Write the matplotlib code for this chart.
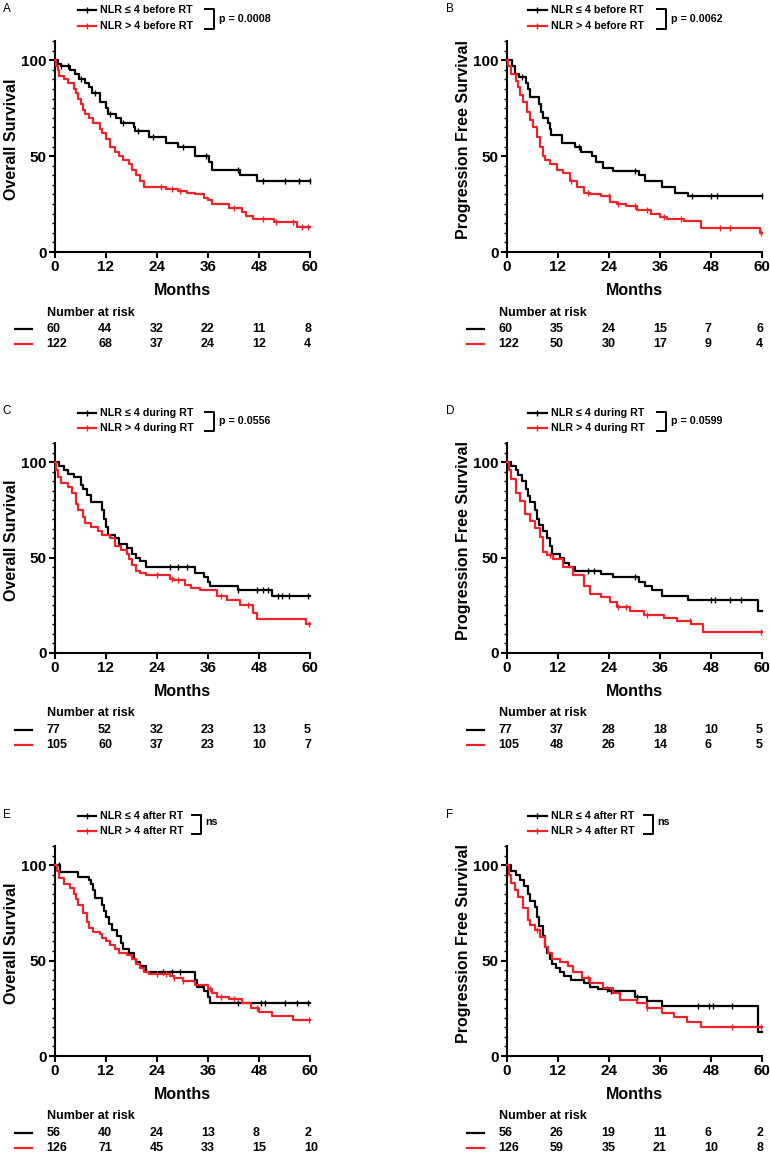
import numpy as np
import matplotlib
matplotlib.use("Agg")
import matplotlib.pyplot as plt
from matplotlib.ticker import MultipleLocator

plt.rcParams['font.family'] = ['Liberation Sans', 'DejaVu Sans']
plt.rcParams['font.weight'] = 'bold'

BLACK = '#000000'
RED = '#ee2229'

months = [0, 12, 24, 36, 48, 60]

# Panel A: overall survival, NLR before RT
a_lo_t = [0, 0.8, 1.5, 3.5, 4.8, 5.7, 7.0, 8.0, 8.8, 10.6, 12.0, 12.5, 14.3, 15.6, 18.5, 18.9,
          22.0, 26.0, 29.0, 33.0, 36.3, 37.0, 43.5, 47.5]
a_lo_s = [100, 98, 97, 95, 93, 90, 88, 86, 83, 78, 75, 72, 70, 67, 65, 63,
          60, 57, 55, 50, 47, 43, 40, 37]
a_lo_c = [1.5, 3.0, 6.0, 9.5, 13.0, 16.0, 19.5, 23.0, 30.0, 35.5, 43.0, 49.0, 54.0, 57.5, 60.0]
a_hi_t = [0, 0.3, 0.7, 1.0, 2.0, 3.0, 4.5, 5.0, 5.5, 6.0, 6.5, 7.0, 8.0, 9.0, 10.5, 11.0, 12.0,
          13.0, 14.0, 15.0, 16.0, 17.5, 18.0, 19.0, 20.0, 21.0, 26.0, 29.0, 31.0, 33.0, 35.0,
          36.0, 37.0, 41.0, 44.0, 45.0, 46.5, 51.5, 57.0]
a_hi_s = [100, 97, 95, 92, 90, 88, 85, 83, 80, 77, 74, 72, 70, 67, 64, 62, 59,
          55, 52, 50, 48, 46, 43, 40, 37, 34, 33, 32, 31, 30, 28,
          27, 25, 23, 21, 19, 17, 15.5, 13]
a_hi_c = [25, 27.5, 29.5, 42, 49, 52, 56, 58, 59.5]
a_risk_lo = [60, 44, 32, 22, 11, 8]
a_risk_hi = [122, 68, 37, 24, 12, 4]

# Panel B: progression free survival, NLR before RT
b_lo_t = [0, 1.2, 1.8, 2.8, 4.5, 5.0, 5.5, 7.5, 8.0, 8.5, 9.6, 10.0, 10.3, 13.0, 16.0, 17.5,
          20.0, 21.0, 22.5, 25.0, 31.0, 32.5, 36.5, 39.5, 42.5]
b_lo_s = [100, 97, 93, 91, 88, 85, 81, 77, 73, 70, 67, 64, 61, 57, 55, 52,
          50, 47, 44, 42, 40, 37, 34, 31, 29]
b_lo_c = [3.5, 17.0, 30.0, 43.5, 47.9, 49.5, 60.0]
b_hi_t = [0, 0.3, 1.0, 2.0, 2.5, 3.0, 3.8, 4.6, 5.4, 6.2, 7.0, 7.7, 8.5, 9.0, 10.0, 11.7, 13.2,
          14.8, 16.4, 18.0, 19.6, 22.0, 24.3, 25.9, 28.0, 30.6, 33.8, 36.0, 37.7, 41.6, 45.6, 59.5]
b_hi_s = [100, 97, 93, 89, 86, 82, 78, 73, 69, 65, 60, 55, 50, 48, 46, 43, 41,
          37, 34, 31, 30, 29, 26, 25, 24, 22, 20, 18, 17, 16, 12.5, 10]
b_hi_c = [15, 19, 24, 26, 30, 33, 37, 41, 50, 52.5, 59.8]
b_risk_lo = [60, 35, 24, 15, 7, 6]
b_risk_hi = [122, 50, 30, 17, 9, 4]

# Panel C: overall survival, NLR during RT
c_lo_t = [0, 1, 2, 3, 4.5, 6, 6.5, 7.5, 8.5, 11, 11.5, 12, 12.5, 14, 15, 17, 18, 19, 20, 21.5,
          33, 35, 36, 36.5, 43, 51]
c_lo_s = [100, 98, 96, 94, 92, 88, 86, 83, 79, 75, 70, 66, 62, 60, 57, 55, 52, 50, 48, 45,
          42, 40, 37, 35, 33, 30]
c_lo_c = [27, 29, 31, 43, 47.5, 49, 50, 52.5, 53.5, 55, 59.5]
c_hi_t = [0, 0.3, 0.8, 1.5, 3, 4, 5, 5.5, 6.5, 7, 8.5, 10, 11, 13, 14, 15.5, 17, 17.5, 18, 19,
          20, 21.5, 27, 28, 30.5, 32, 34, 38, 40.5, 43.5, 46.5, 47.5, 59]
c_hi_s = [100, 96, 92, 89, 87, 84, 78, 75, 71, 68, 66, 64, 62, 60, 56, 54, 52, 49, 46, 43,
          42, 41, 39, 38, 35.5, 34, 33, 30, 28, 25, 21, 18, 15]
c_hi_c = [24, 27.5, 29, 39, 45.5, 59.8]
c_risk_lo = [77, 52, 32, 23, 13, 5]
c_risk_hi = [105, 60, 37, 23, 10, 7]

# Panel D: progression free survival, NLR during RT
d_lo_t = [0, 1, 2, 2.5, 3.5, 4.5, 5, 5.5, 6.5, 7, 7.5, 8.5, 9.5, 10, 10.5, 12.5, 13.5, 14.5,
          16, 22, 25, 31, 32.5, 34, 36.5, 42.5, 59]
d_lo_s = [100, 98, 96, 93, 90, 86, 82, 79, 75, 70, 67, 64, 60, 56, 52, 50, 47, 45,
          43, 41.5, 40, 37, 35, 33, 30, 28, 22]
d_lo_c = [19, 20.5, 30, 48, 49, 52.5, 55]
d_hi_t = [0, 0.5, 1, 2.2, 3, 4.2, 5.4, 6.5, 7.7, 8.5, 9.3, 10.9, 13.2, 15.6, 18, 19.6, 22,
          24.3, 25.9, 29, 32.2, 36.9, 40, 43.2, 46]
d_hi_s = [100, 96, 91, 84, 79.5, 73, 69, 65.5, 61, 53, 51.5, 49, 45, 41, 35, 31, 29.5,
          26.5, 24, 22, 20, 18.5, 17, 15, 11]
d_hi_c = [10, 26, 28, 33, 43, 59.8]
d_risk_lo = [77, 37, 28, 18, 10, 5]
d_risk_hi = [105, 48, 26, 14, 6, 5]

# Panel E: overall survival, NLR after RT
e_lo_t = [0, 1.2, 5.5, 8, 8.5, 9, 9.5, 11, 11.5, 12, 12.7, 13.5, 14.5, 15.5, 16, 17.5, 18.5,
          19, 20, 21.5, 33, 33.5, 35, 36, 36.5]
e_lo_s = [100, 96.5, 94, 92, 90, 87, 83, 79, 76, 73, 69, 66, 63, 59, 56, 54, 51,
          49, 47, 44, 40, 36, 34, 31, 28]
e_lo_c = [1, 25.5, 27.5, 29.5, 43, 48.5, 49.5, 54, 57, 59.5]
e_hi_t = [0, 0.5, 1, 2, 3.5, 4.5, 5, 5.5, 6.5, 7.5, 8, 9, 10.5, 11, 12, 13, 14, 15, 17, 18,
          19, 20, 21, 22, 27, 28, 30, 33, 36, 37, 38, 41, 44, 46, 48, 51, 56]
e_hi_s = [100, 97, 93, 90, 88, 85, 82, 79, 75, 70, 67, 65, 64, 62, 60, 58, 56, 54, 53, 51,
          48, 46, 44, 43, 42, 41, 39.5, 37, 35, 33, 31, 30, 28, 25, 23, 21, 19]
e_hi_c = [24, 26, 28, 30, 36.5, 39, 42, 47.5, 59.8]
e_risk_lo = [56, 40, 24, 13, 8, 2]
e_risk_hi = [126, 71, 45, 33, 15, 10]

# Panel F: progression free survival, NLR after RT
f_lo_t = [0, 1, 2, 3, 4, 5, 5.5, 6.5, 7, 7.5, 8.5, 9, 9.5, 10, 10.5, 11.5, 12.5, 13.5, 15, 18,
          19.5, 21.5, 24, 30, 33, 36.5, 59]
f_lo_s = [100, 97, 95, 92, 89, 85, 81, 78, 73, 68, 63, 57, 54, 51, 48, 46, 44, 42, 40, 38,
          36, 35, 34, 31, 29, 26, 12.5]
f_lo_c = [23.5, 24.5, 30.5, 45, 47.5, 48.5, 53]
f_hi_t = [0, 0.5, 1, 1.8, 2.6, 3.8, 5, 5.5, 6.5, 7.7, 8.9, 9.7, 10.5, 12.5, 14.4, 15.6, 17.6,
          19.6, 22.7, 25, 26.7, 30.6, 33, 36.5, 39.3, 42.4, 45.6]
f_hi_s = [100, 95, 90.5, 87, 83.5, 77.5, 71, 68.5, 66, 62.5, 57, 54, 51, 49.5, 47, 44, 41,
          38, 35.5, 33, 29.5, 28, 25, 22.5, 20.5, 18, 15]
f_hi_c = [7, 19, 33, 53, 59.8]
f_risk_lo = [56, 26, 19, 11, 6, 2]
f_risk_hi = [126, 59, 35, 21, 10, 8]


def km(ax, t, s, cens, color):
    t = list(t) + [60]
    s = list(s) + [s[-1]]
    ax.step(t, s, where='post', color=color, lw=1.6, clip_on=False, zorder=3)
    idx = np.searchsorted(t, cens, side='right') - 1
    cy = np.array(s)[idx]
    ax.plot(cens, cy, ls='none', marker='|', ms=4, mew=1.0, color=color,
            clip_on=False, zorder=3)


def panel(pos, letter, ylabel, when, pval, lo, hi, risk_lo, risk_hi):
    ax = fig.add_axes(pos)
    km(ax, *lo, BLACK)
    km(ax, *hi, RED)
    ax.set_xlim(0, 60)
    ax.set_ylim(0, 110)
    ax.set_xticks(months)
    ax.set_yticks([0, 50, 100])
    ax.yaxis.set_minor_locator(MultipleLocator(5))
    for sp in ['top', 'right']:
        ax.spines[sp].set_visible(False)
    for sp in ['left', 'bottom']:
        ax.spines[sp].set_linewidth(1.5)
    ax.tick_params(which='major', length=4, width=1.5, labelsize=11, pad=2)
    ax.tick_params(which='minor', length=2.5, width=1.0)
    ax.set_xlabel('Months', fontsize=11.5, fontweight='bold', labelpad=6)
    ax.set_ylabel(ylabel, fontsize=11.5, fontweight='bold')
    ax.yaxis.set_label_coords(-0.143, 0.535)
    for lab in ax.get_xticklabels() + ax.get_yticklabels():
        lab.set_fontweight('bold')

    tr = ax.transAxes
    # legend
    lx = 0.09 if letter in 'ACE' else 0.083
    for yy, col, lab in [(1.145, BLACK, 'NLR ≤ 4 ' + when), (1.072, RED, 'NLR > 4 ' + when)]:
        ax.plot([lx, lx + 0.072], [yy, yy], color=col, lw=1.6, transform=tr, clip_on=False)
        ax.plot([lx + 0.036], [yy], marker='|', ms=4, mew=1.0, color=col,
                transform=tr, clip_on=False)
        ax.text(lx + 0.088, yy, lab, transform=tr, fontsize=7.7, fontweight='bold',
                va='center', ha='left')
    if pval is None:
        bx0, bx1 = 0.537, 0.572
        ax.text(0.588, 1.115, 'ns', transform=tr, fontsize=7.7, fontweight='bold',
                va='center', ha='left')
    else:
        bx0, bx1 = 0.59, 0.625
        ax.text(0.642, 1.105, 'p = ' + pval, transform=tr, fontsize=7.7, fontweight='bold',
                va='center', ha='left')
    ax.plot([bx0, bx1, bx1, bx0], [1.15, 1.15, 1.055, 1.055], color=BLACK, lw=1.4,
            transform=tr, clip_on=False)

    ax.text(-0.205 if letter in 'ACE' else -0.24, 1.15, letter, transform=tr, fontsize=8.5,
            fontweight='normal', va='center', ha='left')

    # number at risk table
    ax.text(-0.033, -0.287, 'Number at risk', transform=tr, fontsize=9, fontweight='bold',
            va='center', ha='left')
    for yy, col, vals in [(-0.367, BLACK, risk_lo), (-0.438, RED, risk_hi)]:
        ax.plot([-0.157, -0.092], [yy, yy], color=col, lw=1.6, transform=tr, clip_on=False)
        for i, v in enumerate(vals):
            ax.text(-0.033 + 0.202 * i, yy, str(v), transform=tr, fontsize=9,
                    fontweight='bold', va='center', ha='left')
    return ax


fig = plt.figure(figsize=(7.7, 11.52), dpi=100)

W, H = 770.0, 1152.0
w = 255 / W
lefts = [55 / W, 507 / W]
rows = [(41, 252), (443, 653), (846, 1056)]


def rect(col, row):
    top, bot = rows[row]
    return [lefts[col], 1 - bot / H, w, (bot - top) / H]


panel(rect(0, 0), 'A', 'Overall Survival', 'before RT', '0.0008',
      (a_lo_t, a_lo_s, a_lo_c), (a_hi_t, a_hi_s, a_hi_c), a_risk_lo, a_risk_hi)
panel(rect(1, 0), 'B', 'Progression Free Survival', 'before RT', '0.0062',
      (b_lo_t, b_lo_s, b_lo_c), (b_hi_t, b_hi_s, b_hi_c), b_risk_lo, b_risk_hi)
panel(rect(0, 1), 'C', 'Overall Survival', 'during RT', '0.0556',
      (c_lo_t, c_lo_s, c_lo_c), (c_hi_t, c_hi_s, c_hi_c), c_risk_lo, c_risk_hi)
panel(rect(1, 1), 'D', 'Progression Free Survival', 'during RT', '0.0599',
      (d_lo_t, d_lo_s, d_lo_c), (d_hi_t, d_hi_s, d_hi_c), d_risk_lo, d_risk_hi)
panel(rect(0, 2), 'E', 'Overall Survival', 'after RT', None,
      (e_lo_t, e_lo_s, e_lo_c), (e_hi_t, e_hi_s, e_hi_c), e_risk_lo, e_risk_hi)
panel(rect(1, 2), 'F', 'Progression Free Survival', 'after RT', None,
      (f_lo_t, f_lo_s, f_lo_c), (f_hi_t, f_hi_s, f_hi_c), f_risk_lo, f_risk_hi)

fig.savefig('out.png', dpi=100)
